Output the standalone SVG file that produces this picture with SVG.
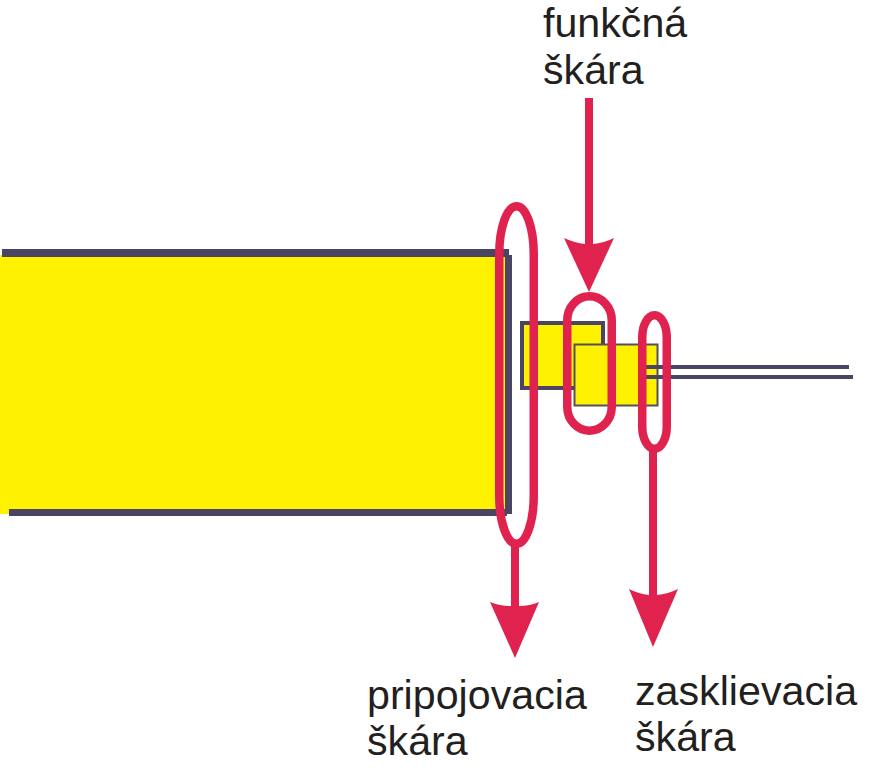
<svg xmlns="http://www.w3.org/2000/svg" width="871" height="768" viewBox="0 0 871 768">
<style>
.y{fill:#fff200}
.d{fill:#4b4564}
.red{fill:#e0224f}
.loop{fill:none;stroke:#e0224f;stroke-width:8.500}
.line{fill:none;stroke:#4b4564;stroke-width:4}
text{font-family:"Liberation Sans",Arial,sans-serif;font-size:41.200px;fill:#231f20}
</style>
<rect width="871" height="768" fill="#fff"/>
<g id="frame">
<rect class="y" x="0" y="255" width="505" height="254"/>
<rect class="y" x="0" y="505" width="9" height="9"/>
<rect class="d" x="2" y="249" width="507" height="8"/>
<rect class="d" x="9" y="509" width="498" height="7"/>
<rect class="d" x="505" y="255" width="7" height="259"/>
</g>
<g id="sash">
<rect class="y" x="522" y="323" width="81" height="65" stroke="#4b4564" stroke-width="4"/>
</g>
<g id="glazing-bead">
<rect class="y" x="574.500" y="344.500" width="83" height="61" stroke="#55505f" stroke-width="2"/>
<path class="line" d="M646 367H849M646 377H853"/>
</g>
<g id="connectors">
<rect class="loop" x="499.250" y="206.250" width="34.500" height="337.500" rx="17.250" ry="48"/>
<rect class="loop" x="567.250" y="296.250" width="44.500" height="134.500" rx="22.250" ry="24"/>
<rect class="loop" x="642.250" y="315.250" width="24.500" height="133.500" rx="12.250" ry="22"/>
<path class="red" d="M585 98H593V244Q604 243 614 238L589 292L564 238Q575 243 585 244Z"/>
<path class="red" d="M511 545H519V606Q530 606 539 602L515 658L490 602Q500 606 511 606Z"/>
<path class="red" d="M649 451H657V595Q668 594 678 589L653 647L629 589Q639 594 649 595Z"/>
</g>
<g id="label-funkcna"><text x="543" y="37">funkčná</text><text x="543" y="84">škára</text></g>
<g id="label-pripojovacia"><text x="367" y="709">pripojovacia</text><text x="367" y="755">škára</text></g>
<g id="label-zasklievacia"><text x="635" y="705">zasklievacia</text><text x="635" y="751">škára</text></g>
</svg>
